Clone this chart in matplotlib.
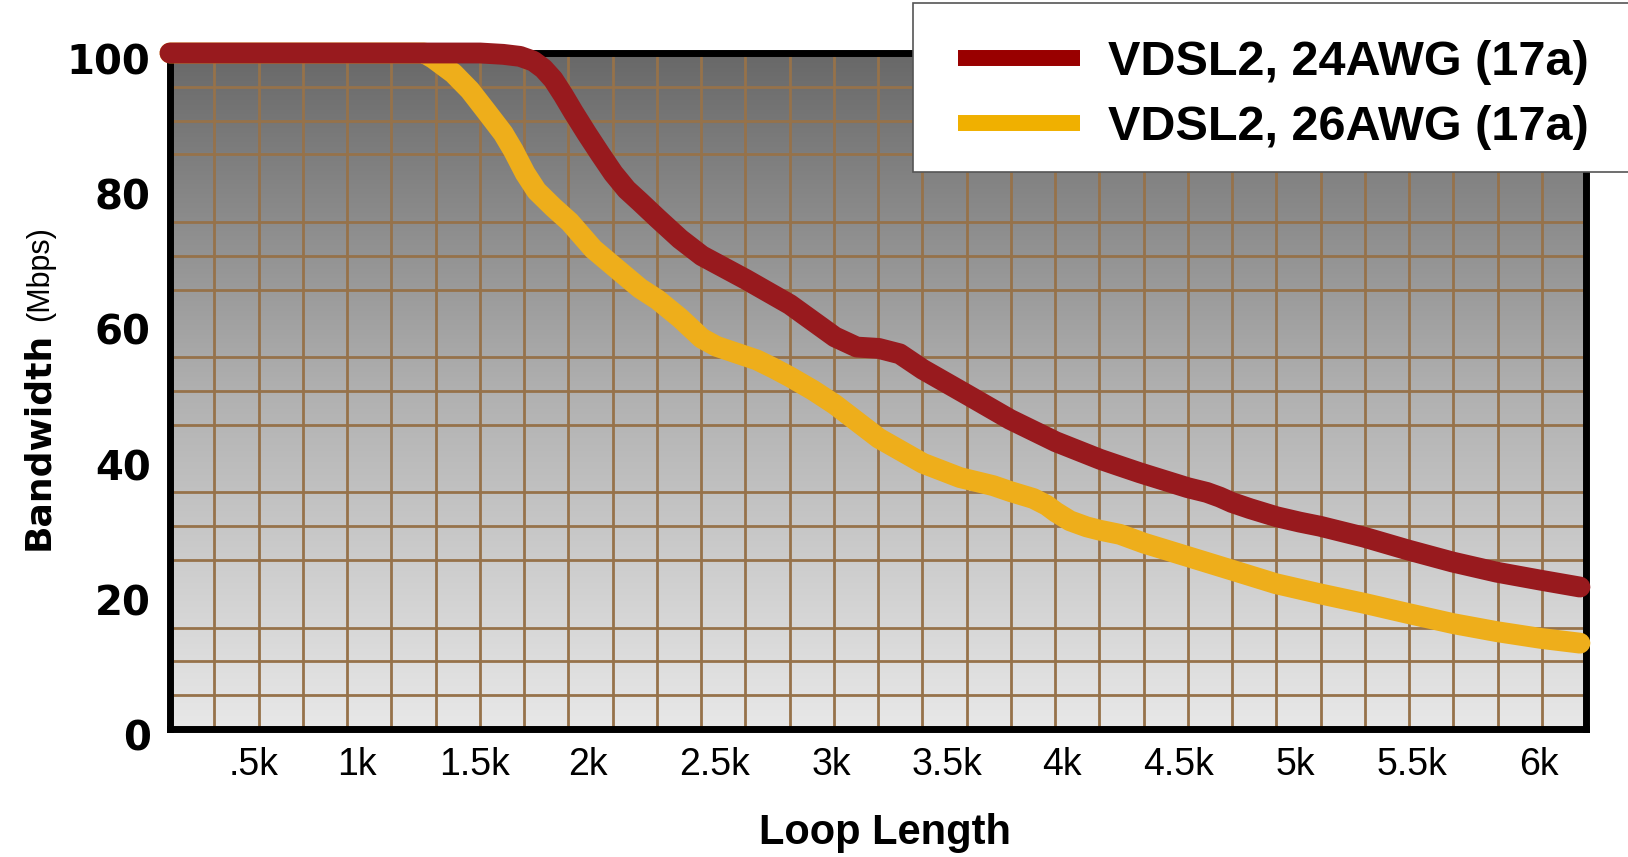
import numpy as np
import matplotlib
matplotlib.use("Agg")
import matplotlib.pyplot as plt
from matplotlib.colors import LinearSegmentedColormap
from matplotlib.lines import Line2D
from matplotlib.patches import Rectangle, Shadow
from matplotlib.transforms import ScaledTranslation

# loop length in feet, bandwidth in Mbps
awg24_ft = [140, 1470, 1569, 1641, 1698, 1741, 1783, 1826, 1869, 1927, 1984, 2041,
            2098, 2155, 2232, 2327, 2421, 2610, 2798, 2991, 3085, 3179, 3269, 3368,
            3561, 3742, 3938, 4128, 4213, 4299, 4504, 4586, 4642, 4694, 4771, 4885,
            4985, 5071, 5258, 5447, 5640, 5829, 6020, 6186]
awg24_mbps = [100, 100, 99.8, 99.5, 98.8, 97.7, 96.1, 93.8, 91.3, 88.1, 85.1, 82.2,
              79.8, 78, 75.5, 72.5, 70, 66.5, 62.8, 58, 56.5, 56.3, 55.5, 53.2,
              49.4, 45.8, 42.5, 39.9, 38.9, 37.9, 35.7, 35, 34.3, 33.5, 32.6, 31.4,
              30.6, 30.0, 28.4, 26.5, 24.7, 23.2, 22, 21]

awg26_ft = [140, 1230, 1269, 1355, 1426, 1498, 1569, 1612, 1663, 1712, 1783, 1854,
            1955, 2041, 2155, 2231, 2327, 2420, 2484, 2570, 2656, 2727, 2798, 2898,
            2991, 3180, 3369, 3527, 3670, 3746, 3842, 3899, 3938, 3999, 4071, 4128,
            4213, 4316, 4505, 4694, 4882, 5071, 5260, 5448, 5641, 5830, 6019, 6186]
awg26_mbps = [100, 100, 99.2, 97, 94.5, 91.3, 88.1, 85.6, 82.2, 79.6, 77.2, 75,
              71, 68.5, 65.2, 63.5, 60.8, 57.8, 56.6, 55.6, 54.6, 53.4, 52.1, 50.1,
              48, 43, 39.3, 37.2, 36, 35.1, 34.1, 33.1, 32.1, 30.8, 29.9, 29.4,
              28.8, 27.5, 25.5, 23.5, 21.5, 20.0, 18.6, 17.1, 15.6, 14.4, 13.4, 12.7]

# tick labels sit where the original text boxes were placed
xtick_pos = [500, 942, 1444, 1932, 2477, 2974, 3472, 3965, 4463, 4964, 5466, 6010]
xtick_lbl = [".5k", "1k", "1.5k", "2k", "2.5k", "3k", "3.5k", "4k", "4.5k", "5k", "5.5k", "6k"]
ytick_pos = [0, 20, 40, 60, 80, 100]
series_names = ["VDSL2, 24AWG (17a)", "VDSL2, 26AWG (17a)"]

RED = "#981a1e"
YELLOW = "#eeae1b"
GRID = "#96724a"
x0, x1 = 140, 6212

fig = plt.figure(figsize=(16.28, 8.57), dpi=100)
ax = fig.add_axes([170 / 1628, 1 - 729 / 857, 1416 / 1628, 676 / 857])

# grey gradient background, dark at the top
grad = np.linspace(0, 1, 256).reshape(-1, 1)
bg = LinearSegmentedColormap.from_list("bg", ["#686868", "#b0b0b0", "#e8e8e8"])
ax.imshow(grad, cmap=bg, extent=[x0, x1, 0, 100], aspect="auto", zorder=0)

ax.plot(awg26_ft, awg26_mbps, color=YELLOW, lw=15, solid_capstyle="round",
        solid_joinstyle="round", clip_on=False, zorder=3)
ax.plot(awg24_ft, awg24_mbps, color=RED, lw=15, solid_capstyle="round",
        solid_joinstyle="round", clip_on=False, zorder=4)

ax.set_xlim(x0, x1)
ax.set_ylim(0, 100)

ax.set_xticks(xtick_pos)
ax.set_xticklabels(xtick_lbl, fontsize=27, family="Liberation Sans")
ax.set_yticks(ytick_pos)
ax.set_yticklabels([str(v) for v in ytick_pos], fontsize=29, family="DejaVu Sans",
                   fontweight="bold")
ax.set_xticks(np.linspace(x0, x1, 33)[1:-1], minor=True)
ax.set_yticks(np.arange(5, 100, 5), minor=True)
ax.tick_params(which="both", length=0)
ax.tick_params(axis="x", pad=13)
ax.tick_params(axis="y", pad=14)
ax.grid(which="minor", color=GRID, lw=2.0)
ax.set_axisbelow(True)

off = ScaledTranslation(0, -6 / 100, fig.dpi_scale_trans)
for lbl in ax.get_yticklabels():
    lbl.set_transform(lbl.get_transform() + off)

for sp in ax.spines.values():
    sp.set_linewidth(5)
    sp.set_color("black")

fig.text(885 / 1628, 1 - 833 / 857, "Loop Length", fontsize=30, fontweight="bold",
         family="Liberation Sans", ha="center", va="center")
fig.text(48 / 1628, 1 - 550 / 857, "Bandwidth", fontsize=26, fontweight="bold",
         family="DejaVu Sans", rotation=90, rotation_mode="anchor",
         ha="left", va="baseline")
fig.text(48 / 1628, 1 - 321 / 857, "(Mbps)", fontsize=22, family="Liberation Sans",
         rotation=90, rotation_mode="anchor", ha="left", va="baseline")

# legend box running off the right edge
frame = Rectangle((913 / 1628, 1 - 172 / 857), (1660 - 913) / 1628, 169 / 857,
                  transform=fig.transFigure, facecolor="white", edgecolor="#555555",
                  lw=1.2, zorder=5)
shadow = Shadow(frame, 3, -3, zorder=4.9)
fig.add_artist(shadow)
fig.add_artist(frame)

handles = [Line2D([], [], color="#990000", lw=11.5, solid_capstyle="butt"),
           Line2D([], [], color="#f0b000", lw=11.5, solid_capstyle="butt")]
leg = fig.legend(handles, series_names, loc="upper left",
                 bbox_to_anchor=(958 / 1628, 1 - 40 / 857), frameon=False,
                 prop={"family": "Liberation Sans", "weight": "bold", "size": 35},
                 handlelength=2.5, handletextpad=0.58, labelspacing=0.42,
                 borderpad=0.0, borderaxespad=0)
leg.set_zorder(6)

fig.savefig("out.png", dpi=100)
